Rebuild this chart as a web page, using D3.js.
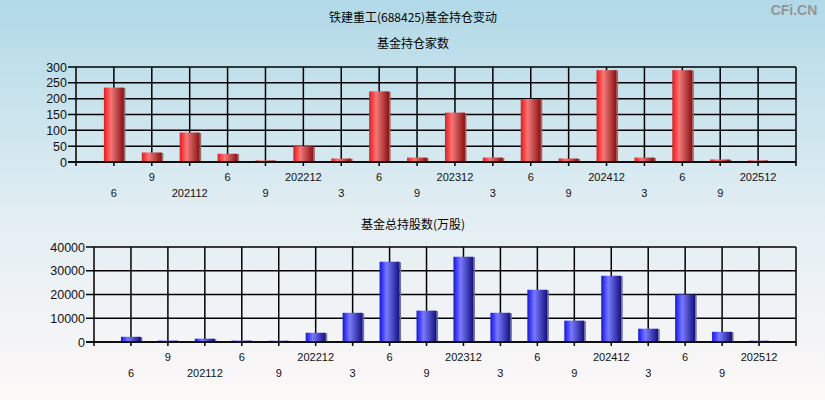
<!DOCTYPE html>
<html><head><meta charset="utf-8">
<script src="https://cdn.jsdelivr.net/npm/d3@7/dist/d3.min.js"></script>
<style>html,body{margin:0;padding:0;}svg{display:block;}</style>
</head><body>
<script>
const categories = ["202106","202109","202112","202206","202209","202212","202303","202306","202309","202312","202403","202406","202409","202412","202503","202506","202509","202512"];
const tickLabels = ["6","9","202112","6","9","202212","3","6","9","202312","3","6","9","202412","3","6","9","202512"];
const fundCount = [235,30,93,26,5,50,11,223,14,156,14,199,11,290,14,290,8,5];
const fundShares = [2200,600,1400,600,550,3900,12300,33800,13200,35900,12300,22000,9000,27900,5600,20000,4300,550];
const yTicksTop = [0,50,100,150,200,250,300];
const yTicksBottom = [0,10000,20000,30000,40000];

const W = 825, H = 400;
const svg = d3.select("body").append("svg").attr("width", W).attr("height", H);
const defs = svg.append("defs");
const bg = defs.append("linearGradient").attr("id","bg").attr("x1",0).attr("y1",0).attr("x2",0).attr("y2",1);
bg.append("stop").attr("offset","0%").attr("stop-color","#b1d9e7");
bg.append("stop").attr("offset","55%").attr("stop-color","#e3eef3");
bg.append("stop").attr("offset","100%").attr("stop-color","#fdf8f8");
function barGrad(id, c0, c1, c2) {
  const g = defs.append("linearGradient").attr("id",id).attr("x1",0).attr("y1",0).attr("x2",1).attr("y2",0);
  g.append("stop").attr("offset","0%").attr("stop-color",c0);
  g.append("stop").attr("offset","35%").attr("stop-color",c1);
  g.append("stop").attr("offset","100%").attr("stop-color",c2);
}
barGrad("red","#ff1010","#f07a7a","#8a1010");
barGrad("blue","#1010ff","#7a7aff","#10107a");

svg.append("rect").attr("width",W).attr("height",H).attr("fill","url(#bg)");

const cjk = "'Noto Sans CJK SC', 'Noto Sans', sans-serif";
const sans = "'Liberation Sans', Arial, sans-serif";

svg.append("text").attr("x",413).attr("y",22).attr("text-anchor","middle")
  .style("font-family",cjk).style("font-size","12px").attr("fill","#000").text("铁建重工(688425)基金持仓变动");
svg.append("text").attr("x",794).attr("y",15).attr("text-anchor","middle")
  .style("font-family",sans).style("font-size","14px").style("font-weight","bold").attr("fill","#959595").text("CFi.CN");

function panel(cfg) {
  const {x0,x1,yTop,yBot,values,ticks,max,grad,title,titleY,rowY1,rowY2} = cfg;
  const n = categories.length;
  const x = d3.scaleLinear().domain([0, n+1]).range([x0, x1]);
  const y = d3.scaleLinear().domain([0, max]).range([yBot, yTop]);
  const g = svg.append("g");
  g.append("text").attr("x",413).attr("y",titleY).attr("text-anchor","middle")
    .style("font-family",cjk).style("font-size","12px").attr("fill","#000").text(title);
  g.selectAll(".hg").data(ticks).enter().append("line")
    .attr("x1",x0-8).attr("x2",x1).attr("y1",d=>y(d)).attr("y2",d=>y(d))
    .attr("stroke","#000").attr("stroke-width",1.5);
  g.selectAll(".vg").data(d3.range(0,n+2)).enter().append("line")
    .attr("x1",d=>x(d)).attr("x2",d=>x(d)).attr("y1",yTop).attr("y2",yBot+4)
    .attr("stroke","#000").attr("stroke-width",1.5);
  g.selectAll(".yl").data(ticks).enter().append("text")
    .attr("x",x0-9).attr("y",d=>y(d)+4.5).attr("text-anchor","end")
    .style("font-family",sans).style("font-size","12.5px").attr("fill","#111").text(d=>d);
  const bw = 20;
  g.selectAll(".sh").data(values).enter().append("rect")
    .attr("x",(d,i)=>x(i+1)-bw/2+bw).attr("width",1.5)
    .attr("y",d=>y(d)+0.5).attr("height",d=>Math.max(0,yBot-y(d)-0.5)).attr("fill","#777");
  g.selectAll(".bar").data(values).enter().append("rect")
    .attr("x",(d,i)=>x(i+1)-bw/2).attr("width",bw)
    .attr("y",d=>y(d)).attr("height",d=>Math.max(0,yBot-y(d))).attr("fill","url(#"+grad+")");
  g.selectAll(".xl").data(tickLabels).enter().append("text")
    .attr("x",(d,i)=>x(i+1)).attr("y",(d,i)=> (i%2===0 ? rowY2 : rowY1) + 4)
    .attr("text-anchor","middle")
    .style("font-family",sans).style("font-size","11px").attr("fill","#111").text(d=>d);
  g.append("line").attr("x1",x0-8).attr("x2",x1).attr("y1",yBot).attr("y2",yBot)
    .attr("stroke","#000").attr("stroke-width",1.5);
}

panel({x0:76,x1:796,yTop:67,yBot:162,values:fundCount,ticks:yTicksTop,max:300,grad:"red",
  title:"基金持仓家数",titleY:48,rowY1:177,rowY2:192.5});
panel({x0:94,x1:796,yTop:247,yBot:342,values:fundShares,ticks:yTicksBottom,max:40000,grad:"blue",
  title:"基金总持股数(万股)",titleY:228.5,rowY1:357,rowY2:373});
</script>
</body></html>
